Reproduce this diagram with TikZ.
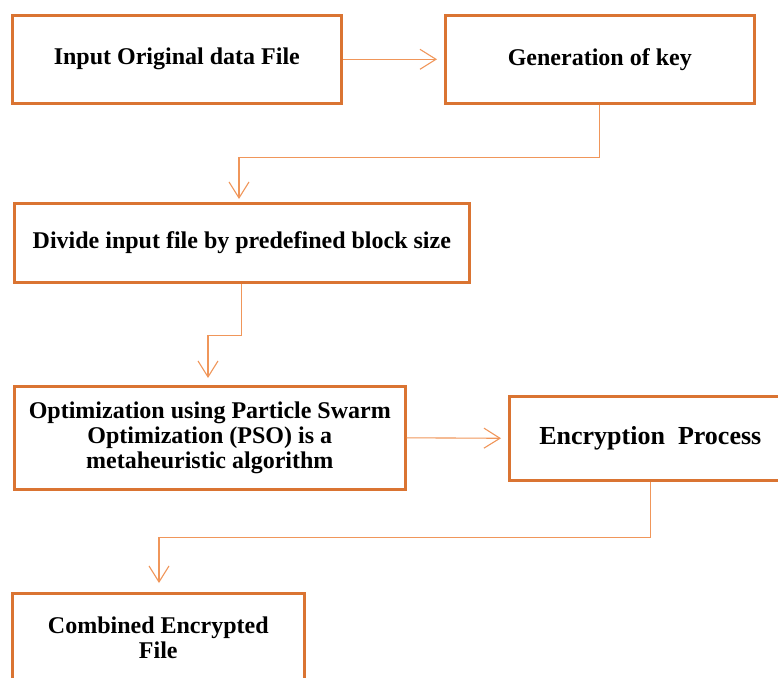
\documentclass[tikz,border=0pt]{standalone}
\usepackage{fontspec}
\setmainfont{Liberation Serif}
\usetikzlibrary{arrows.meta,calc}

\definecolor{boxorange}{RGB}{218,116,50}
\definecolor{linkorange}{RGB}{240,150,90}

\tikzset{
  stepbox/.style={draw=boxorange, line width=2.6pt, fill=white, inner sep=0pt,
    anchor=north west, align=center,
    font=\fontsize{24}{25}\selectfont\bfseries},
  link/.style={draw=linkorange, line width=1.1pt,
    -{Straight Barb[length=16pt,width=20pt,line width=1.1pt]}},
}

\begin{document}
\begin{tikzpicture}[x=1pt,y=-1pt]
  \useasboundingbox (0,0) rectangle (778,677);

  % process boxes
  \node[stepbox, minimum width=329pt, minimum height=88pt] (in)  at (11,14)  {Input Original data File};
  \node[stepbox, minimum width=309pt, minimum height=88pt] (gen) at (444,14) {Generation of key};
  \node[stepbox, minimum width=455pt, minimum height=79pt] (div) at (13,202) {Divide input file by predefined block size};
  \node[stepbox, minimum width=391pt, minimum height=103pt] (opt) at (13,385)
    {Optimization using Particle Swarm\\Optimization (PSO) is a\\metaheuristic algorithm};
  \node[stepbox, minimum width=282pt, minimum height=84pt,
        font=\fontsize{26}{27}\selectfont\bfseries] (enc) at (508,395) {Encryption~~Process};
  \node[stepbox, minimum width=292pt, minimum height=89pt] (comb) at (11,592)
    {Combined Encrypted\\File};

  % connectors
  \draw[link, shorten >=7pt] (in.east) -- (gen.west);
  \draw[link] (gen.south) -- ++(0,53) -| ([xshift=226pt,yshift=3pt]div.north west);
  \draw[link] (div.south) -- ++(0,52) -| ([xshift=195pt,yshift=7pt]opt.north west);
  \draw[link, shorten >=7pt] (opt.east) -- (enc.west);
  \draw[link] (enc.south) -- ++(0,56) -| ([xshift=148pt,yshift=9pt]comb.north west);
\end{tikzpicture}
\end{document}
